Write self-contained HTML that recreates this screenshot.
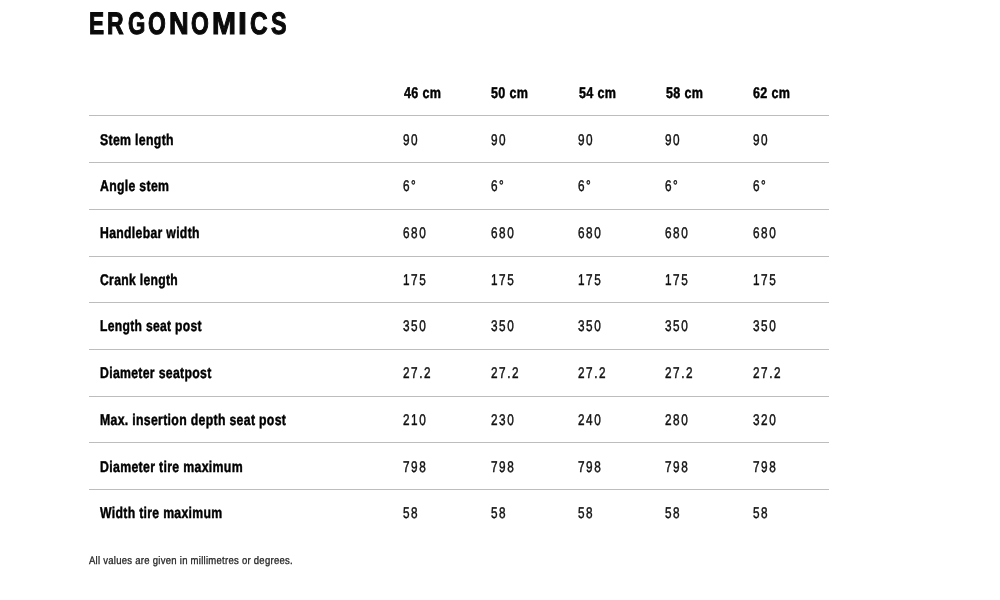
<!DOCTYPE html>
<html lang="en">
<head>
<meta charset="utf-8">
<title>Ergonomics</title>
<style>
  html, body { margin: 0; padding: 0; background: #fff; }
  body { width: 1000px; height: 600px; overflow: hidden; position: relative;
         font-family: "Liberation Sans", sans-serif; color: #111; text-rendering: geometricPrecision; }
  .page { position: absolute; left: 0; top: 0; width: 1000px; height: 600px; will-change: transform; }
  h2 { position: absolute; left: 89.5px; top: 1px; margin: 0; font-weight: bold;
       font-size: 31px; line-height: 46px; letter-spacing: 5.7px; white-space: nowrap;
       transform-origin: 0 0; transform: scaleX(0.74); color: #0a0a0a; -webkit-text-stroke: 1.1px #0a0a0a; }
  h2.t { left: 0; transform: none; letter-spacing: 0; width: 1000px; height: 46px; }
  h2.t span { position: absolute; top: 0; transform-origin: 0 0; }
  .spec { position: absolute; left: 89px; top: 0; width: 740px; height: 500px; }
  .row { position: absolute; left: 0; width: 740px; height: 46px; }
  .row.line { border-top: 1px solid #bdbdbd; }
  .c { position: absolute; top: 14px; white-space: nowrap; font-size: 15.5px; line-height: 20px; }
  .c span { display: inline-block; transform-origin: 0 0; }
  .b { font-weight: bold; -webkit-text-stroke: 0.45px currentColor; letter-spacing: 0.4px; color: #000; }
  .b span { transform: scaleX(0.812); }
  .r span { transform: scaleX(0.76); -webkit-text-stroke: 0.45px currentColor; letter-spacing: 2.0px; }
  .note { position: absolute; left: 89px; top: 553px; font-size: 11px; line-height: 16px;
          color: #262626; white-space: nowrap; margin: 0; }
  .note span { display: inline-block; transform-origin: 0 0; transform: scaleX(0.86645340377003); -webkit-text-stroke: 0.3px currentColor; letter-spacing: 0.3px; }
</style>
</head>
<body>
<div class="page">
<h2 class="t"><span style="left:89.32px;transform:scaleX(0.7303)">E</span><span style="left:106.98px;transform:scaleX(0.7412)">R</span><span style="left:128.03px;transform:scaleX(0.7179)">G</span><span style="left:148.44px;transform:scaleX(0.7377)">O</span><span style="left:169.30px;transform:scaleX(0.8788)">N</span><span style="left:191.21px;transform:scaleX(0.7378)">O</span><span style="left:212.38px;transform:scaleX(0.9280)">M</span><span style="left:238.32px;transform:scaleX(1.0337)">I</span><span style="left:249.51px;transform:scaleX(0.7847)">C</span><span style="left:270.63px;transform:scaleX(0.7520)">S</span></h2>
<div class="spec">
  <div class="row head" style="top:84px">
    <div class="c b" style="left:315px;top:0px"><span>46 cm</span></div>
    <div class="c b" style="left:402.2px;top:0px"><span>50 cm</span></div>
    <div class="c b" style="left:489.7px;top:0px"><span>54 cm</span></div>
    <div class="c b" style="left:576.7px;top:0px"><span>58 cm</span></div>
    <div class="c b" style="left:664.2px;top:0px"><span>62 cm</span></div>
  </div>
  <div class="row line" style="top:115px">
    <div class="c b" style="left:11px;top:15px"><span style="transform:scaleX(0.7937)">Stem length</span></div>
    <div class="c r" style="left:313.90px;top:15px"><span>90</span></div>
    <div class="c r" style="left:401.70px;top:15px"><span>90</span></div>
    <div class="c r" style="left:489.20px;top:15px"><span>90</span></div>
    <div class="c r" style="left:576.40px;top:15px"><span>90</span></div>
    <div class="c r" style="left:663.70px;top:15px"><span>90</span></div>
  </div>
  <div class="row line" style="top:162px">
    <div class="c b" style="left:11px;top:14px"><span style="transform:scaleX(0.7912)">Angle stem</span></div>
    <div class="c r" style="left:313.90px;top:14px"><span>6°</span></div>
    <div class="c r" style="left:401.70px;top:14px"><span>6°</span></div>
    <div class="c r" style="left:489.20px;top:14px"><span>6°</span></div>
    <div class="c r" style="left:576.40px;top:14px"><span>6°</span></div>
    <div class="c r" style="left:663.70px;top:14px"><span>6°</span></div>
  </div>
  <div class="row line" style="top:209px">
    <div class="c b" style="left:11px;top:14px"><span style="transform:scaleX(0.7886)">Handlebar width</span></div>
    <div class="c r" style="left:313.90px;top:14px"><span>680</span></div>
    <div class="c r" style="left:401.70px;top:14px"><span>680</span></div>
    <div class="c r" style="left:489.20px;top:14px"><span>680</span></div>
    <div class="c r" style="left:576.40px;top:14px"><span>680</span></div>
    <div class="c r" style="left:663.70px;top:14px"><span>680</span></div>
  </div>
  <div class="row line" style="top:256px">
    <div class="c b" style="left:11px;top:14px"><span style="transform:scaleX(0.7845)">Crank length</span></div>
    <div class="c r" style="left:313.90px;top:14px"><span>175</span></div>
    <div class="c r" style="left:401.70px;top:14px"><span>175</span></div>
    <div class="c r" style="left:489.20px;top:14px"><span>175</span></div>
    <div class="c r" style="left:576.40px;top:14px"><span>175</span></div>
    <div class="c r" style="left:663.70px;top:14px"><span>175</span></div>
  </div>
  <div class="row line" style="top:302px">
    <div class="c b" style="left:11px;top:14px"><span style="transform:scaleX(0.7812)">Length seat post</span></div>
    <div class="c r" style="left:313.90px;top:14px"><span>350</span></div>
    <div class="c r" style="left:401.70px;top:14px"><span>350</span></div>
    <div class="c r" style="left:489.20px;top:14px"><span>350</span></div>
    <div class="c r" style="left:576.40px;top:14px"><span>350</span></div>
    <div class="c r" style="left:663.70px;top:14px"><span>350</span></div>
  </div>
  <div class="row line" style="top:349px">
    <div class="c b" style="left:11px;top:14px"><span style="transform:scaleX(0.7902)">Diameter seatpost</span></div>
    <div class="c r" style="left:313.90px;top:14px"><span>27.2</span></div>
    <div class="c r" style="left:401.70px;top:14px"><span>27.2</span></div>
    <div class="c r" style="left:489.20px;top:14px"><span>27.2</span></div>
    <div class="c r" style="left:576.40px;top:14px"><span>27.2</span></div>
    <div class="c r" style="left:663.70px;top:14px"><span>27.2</span></div>
  </div>
  <div class="row line" style="top:396px">
    <div class="c b" style="left:11px;top:14px"><span style="transform:scaleX(0.7921)">Max. insertion depth seat post</span></div>
    <div class="c r" style="left:313.90px;top:14px"><span>210</span></div>
    <div class="c r" style="left:401.70px;top:14px"><span>230</span></div>
    <div class="c r" style="left:489.20px;top:14px"><span>240</span></div>
    <div class="c r" style="left:576.40px;top:14px"><span>280</span></div>
    <div class="c r" style="left:663.70px;top:14px"><span>320</span></div>
  </div>
  <div class="row line" style="top:442px">
    <div class="c b" style="left:11px;top:15px"><span style="transform:scaleX(0.795)">Diameter tire maximum</span></div>
    <div class="c r" style="left:313.90px;top:15px"><span>798</span></div>
    <div class="c r" style="left:401.70px;top:15px"><span>798</span></div>
    <div class="c r" style="left:489.20px;top:15px"><span>798</span></div>
    <div class="c r" style="left:576.40px;top:15px"><span>798</span></div>
    <div class="c r" style="left:663.70px;top:15px"><span>798</span></div>
  </div>
  <div class="row line" style="top:489px">
    <div class="c b" style="left:11px;top:14px"><span style="transform:scaleX(0.7893)">Width tire maximum</span></div>
    <div class="c r" style="left:313.90px;top:14px"><span>58</span></div>
    <div class="c r" style="left:401.70px;top:14px"><span>58</span></div>
    <div class="c r" style="left:489.20px;top:14px"><span>58</span></div>
    <div class="c r" style="left:576.40px;top:14px"><span>58</span></div>
    <div class="c r" style="left:663.70px;top:14px"><span>58</span></div>
  </div>
</div>
<p class="note"><span>All values are given in millimetres or degrees.</span></p>
</div>
</body>
</html>
